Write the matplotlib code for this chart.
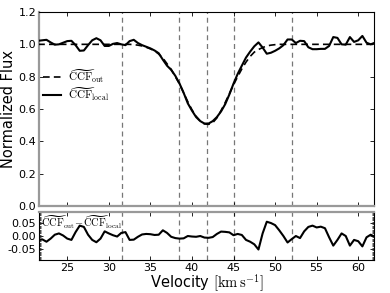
import numpy as np
import matplotlib
matplotlib.use("Agg")
import matplotlib.pyplot as plt
from matplotlib.ticker import MultipleLocator

plt.rcParams['mathtext.fontset'] = 'cm'
plt.rcParams['axes.unicode_minus'] = False
plt.rcParams['font.family'] = 'DejaVu Sans'

velocity = [21.5, 22.0, 22.5, 23.0, 23.5, 24.0, 24.5, 25.0, 25.5, 26.0,
            26.5, 27.0, 27.5, 28.0, 28.5, 29.0, 29.5, 30.0, 30.5, 31.0,
            31.5, 32.0, 32.5, 33.0, 33.5, 34.0, 34.5, 35.0, 35.5, 36.0,
            36.5, 37.0, 37.5, 38.0, 38.5, 39.0, 39.5, 40.0, 40.5, 41.0,
            41.5, 42.0, 42.5, 43.0, 43.5, 44.0, 44.5, 45.0, 45.5, 46.0,
            46.5, 47.0, 47.5, 48.0, 48.5, 49.0, 49.5, 50.0, 50.5, 51.0,
            51.5, 52.0, 52.5, 53.0, 53.5, 54.0, 54.5, 55.0, 55.5, 56.0,
            56.5, 57.0, 57.5, 58.0, 58.5, 59.0, 59.5, 60.0, 60.5, 61.0,
            61.5, 62.0]

ccf_local = [1.022, 1.025, 1.028, 1.012, 0.998, 1.000, 1.010, 1.020, 1.022, 0.995,
             0.960, 0.962, 0.995, 1.025, 1.038, 1.025, 0.990, 0.990, 1.003, 1.008,
             1.000, 0.995, 1.020, 1.028, 1.008, 0.995, 0.985, 0.975, 0.962, 0.945,
             0.905, 0.868, 0.842, 0.805, 0.758, 0.700, 0.635, 0.590, 0.550, 0.525,
             0.510, 0.510, 0.525, 0.550, 0.585, 0.630, 0.690, 0.757, 0.817, 0.868,
             0.918, 0.955, 0.988, 1.012, 0.980, 0.942, 0.948, 0.960, 0.975, 0.995,
             1.030, 1.030, 1.008, 1.022, 1.020, 0.982, 0.970, 0.970, 0.972, 0.972,
             0.990, 1.045, 1.040, 1.000, 0.998, 1.045, 1.015, 1.025, 1.052, 1.010,
             1.000, 1.010]

ccf_out = [1.000, 1.000, 1.000, 1.000, 1.000, 1.000, 1.000, 1.000, 1.000, 1.000,
           1.000, 1.000, 1.000, 1.000, 1.000, 1.000, 1.000, 1.000, 1.000, 1.000,
           1.000, 1.000, 1.000, 0.998, 0.995, 0.990, 0.982, 0.972, 0.960, 0.940,
           0.915, 0.880, 0.845, 0.800, 0.755, 0.700, 0.645, 0.595, 0.555, 0.525,
           0.508, 0.505, 0.515, 0.545, 0.590, 0.640, 0.695, 0.750, 0.800, 0.848,
           0.890, 0.925, 0.952, 0.968, 0.980, 0.990, 0.995, 0.998, 1.000, 1.000,
           1.000, 1.000, 1.000, 1.000, 1.000, 1.000, 1.000, 1.000, 1.000, 1.000,
           1.000, 1.000, 1.000, 1.000, 1.000, 1.000, 1.000, 1.000, 1.000, 1.000,
           1.000, 1.000]

residual = [-0.014, -0.013, -0.022, -0.010, 0.005, 0.010, 0.002, -0.010, -0.015, 0.015,
            0.040, 0.035, 0.005, -0.015, -0.024, -0.010, 0.018, 0.010, 0.003, -0.002,
            0.012, 0.015, -0.015, -0.014, -0.003, 0.006, 0.008, 0.007, 0.004, 0.005,
            0.022, 0.012, -0.003, -0.008, -0.010, -0.009, 0.000, -0.002, -0.003, 0.000,
            -0.006, -0.007, -0.004, 0.008, 0.017, 0.016, 0.014, 0.003, 0.008, 0.004,
            -0.015, -0.022, -0.032, -0.052, 0.010, 0.055, 0.050, 0.042, 0.022, 0.000,
            -0.025, -0.012, 0.000, -0.008, 0.018, 0.035, 0.040, 0.033, 0.036, 0.030,
            -0.005, -0.037, -0.015, 0.010, 0.000, -0.037, -0.015, -0.020, -0.040, -0.005,
            0.005, -0.003]

vlines = [31.6, 38.4, 41.8, 45.1, 52.0]
xticks = [25, 30, 35, 40, 45, 50, 55, 60]
yticks_top = [0.0, 0.2, 0.4, 0.6, 0.8, 1.0, 1.2]
yticks_bot = [-0.05, 0.00, 0.05]

fig = plt.figure(figsize=(3.9, 2.93), dpi=100)
ax1 = fig.add_axes([0.100, 0.297, 0.859, 0.662])
ax2 = fig.add_axes([0.100, 0.113, 0.859, 0.163])

gray = '#999999'
for ax in (ax1, ax2):
    for v in vlines:
        ax.axvline(v, color='#777777', ls=(0, (4, 3)), lw=0.9, zorder=1)
    ax.set_xlim(21.6, 61.9)
    ax.set_xticks(xticks)
    ax.tick_params(direction='in', length=3, width=0.6, labelsize=8, pad=2,
                   top=True, right=True)

ax1.plot(velocity, ccf_out, color='black', ls='--', lw=1.2, dashes=(4, 2.5),
         label=r'$\widetilde{\mathrm{CCF}}_{\mathrm{out}}$', zorder=3)
ax1.plot(velocity, ccf_local, color='black', ls='-', lw=1.5,
         label=r'$\widetilde{\mathrm{CCF}}_{\mathrm{local}}$', zorder=4)
ax1.set_ylim(0.0, 1.2)
ax1.set_yticks(yticks_top)
ax1.set_yticklabels(['0.0', '0.2', '0.4', '0.6', '0.8', '1.0', '1.2'])
ax1.tick_params(labelbottom=False)
ax1.set_ylabel('Normalized Flux', fontsize=10.5, labelpad=2)
ax1.spines['left'].set_color(gray)
ax1.spines['left'].set_linewidth(1.6)
ax1.spines['bottom'].set_color(gray)
ax1.spines['bottom'].set_linewidth(1.6)
ax1.spines['top'].set_linewidth(0.8)
ax1.spines['right'].set_linewidth(0.8)
leg = ax1.legend(loc='upper left', bbox_to_anchor=(0.0, 0.74), frameon=False,
                 fontsize=8, handlelength=1.6, handletextpad=0.6,
                 labelspacing=0.0, borderaxespad=0.0)

ax2.plot(velocity, residual, color='black', lw=1.5, zorder=3)
ax2.set_ylim(-0.092, 0.092)
ax2.set_yticks(yticks_bot)
ax2.set_yticklabels(['-0.05', '0.00', '0.05'])
ax2.yaxis.set_minor_locator(MultipleLocator(0.005))
ax2.tick_params(axis='y', which='minor', direction='in', length=1.5, width=0.5,
                left=True, right=True)
ax2.spines['top'].set_color(gray)
ax2.spines['top'].set_linewidth(1.6)
for s in ('left', 'right', 'bottom'):
    ax2.spines[s].set_linewidth(0.8)
ax2.set_xlabel(r'Velocity $[\mathrm{km\,s^{-1}}]$', fontsize=10.5, labelpad=0)
ax2.text(0.005, 0.97,
         r'$\widetilde{\mathrm{CCF}}_{\mathrm{out}}\!-\!\widetilde{\mathrm{CCF}}_{\mathrm{local}}$',
         transform=ax2.transAxes, ha='left', va='top', fontsize=7.5)

fig.savefig('out.png', dpi=100)
